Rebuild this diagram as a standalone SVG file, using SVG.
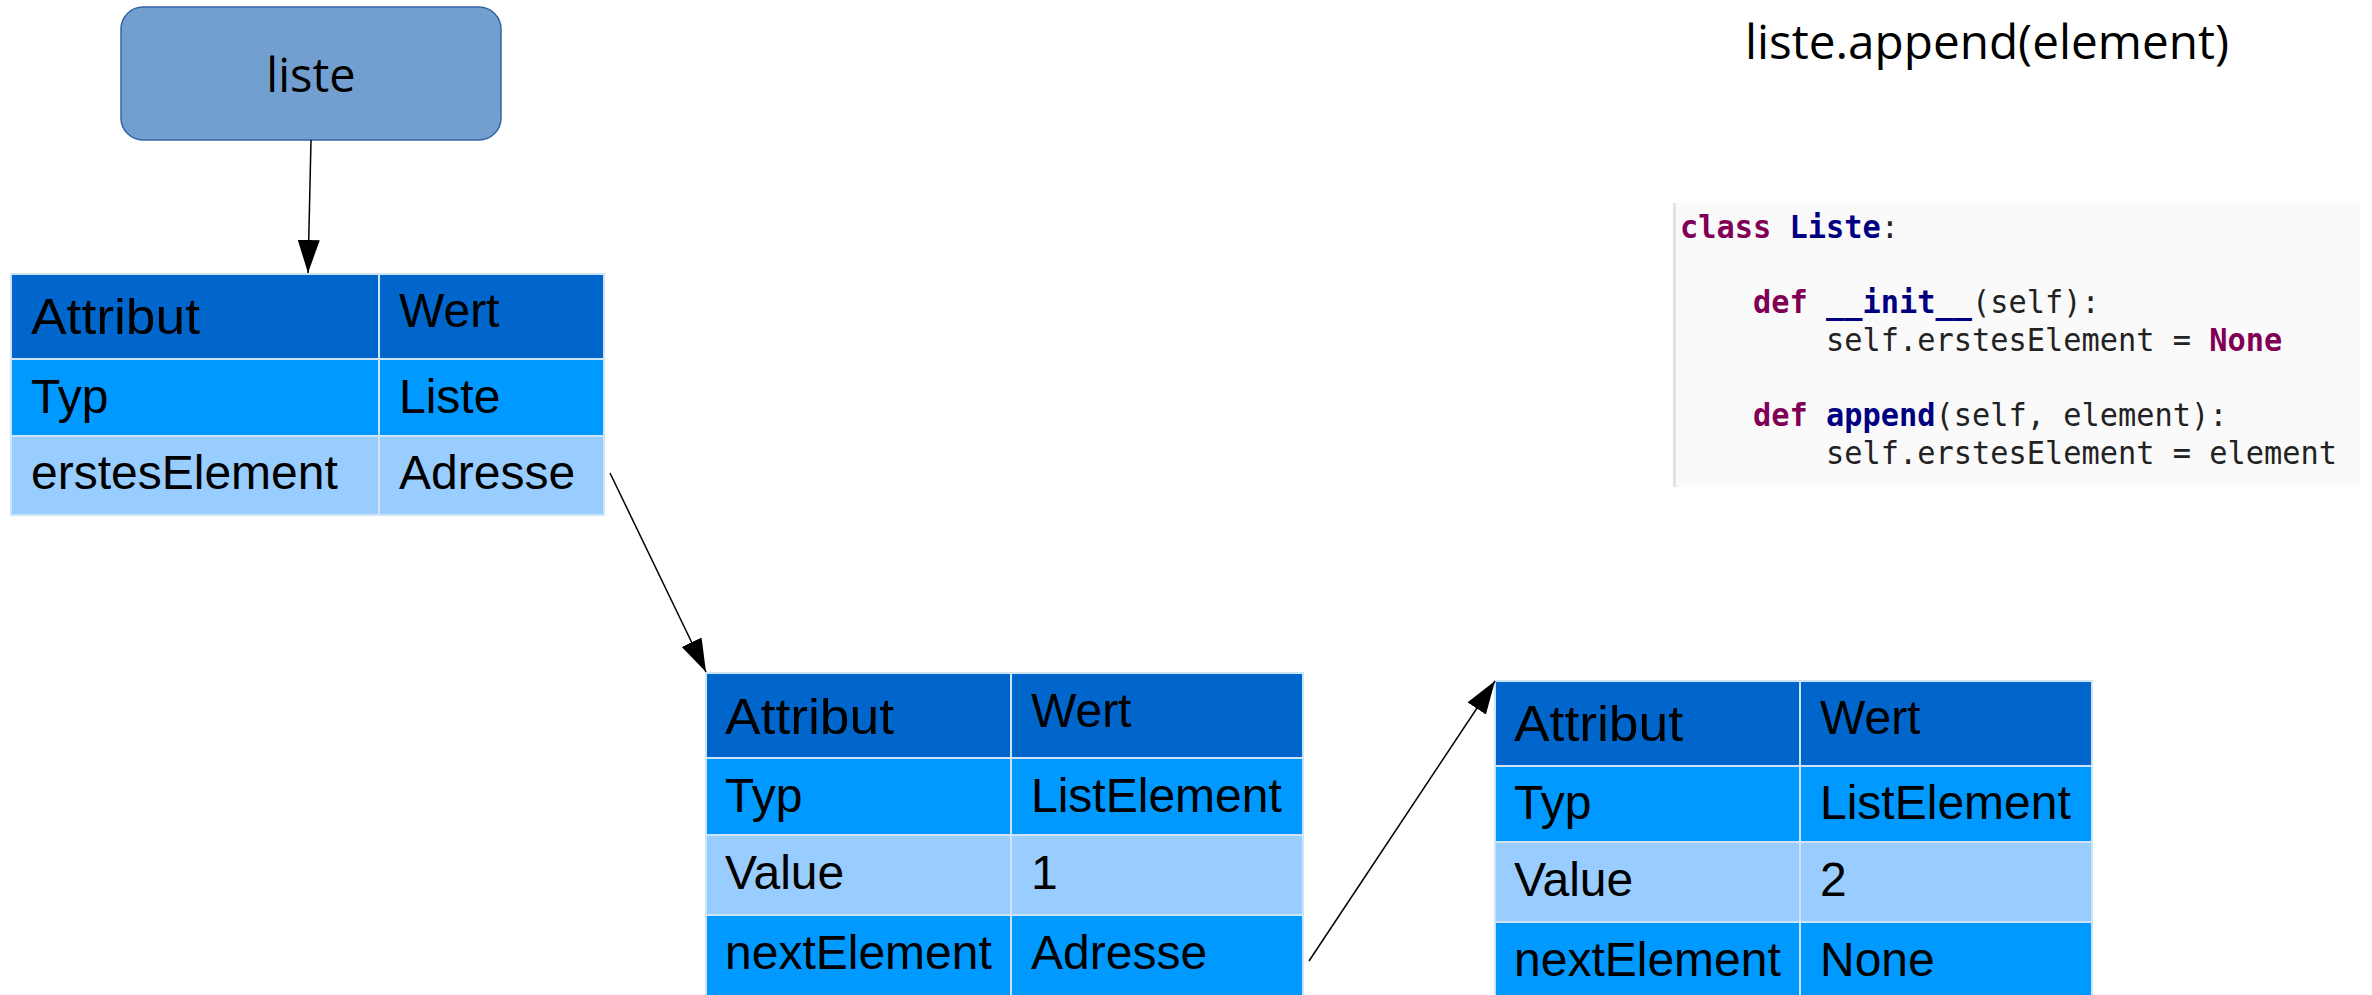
<svg xmlns="http://www.w3.org/2000/svg" width="2372" height="995" viewBox="0 0 2372 995">
<style>
.hdr{fill:#0066cc}
.mid{fill:#0099ff}
.lt{fill:#99ccff}
.cell{stroke:#cfe3f7;stroke-width:2}
.t{font-family:"Liberation Sans",Arial,sans-serif;font-size:48px;fill:#000}
.ta{font-family:"Liberation Sans",Arial,sans-serif;font-size:50px;fill:#000}
.os{font-family:"Open Sans","Noto Sans",sans-serif;font-size:47px;fill:#000}
.code{font-family:"DejaVu Sans Mono",monospace;font-size:32px;fill:#222;white-space:pre}
.kw{fill:#7f0055;font-weight:bold}
.nm{fill:#000080;font-weight:bold}
.conn{stroke:#000;stroke-width:1.5;fill:none}
</style>
<defs>
<marker id="arr" markerUnits="userSpaceOnUse" markerWidth="34" markerHeight="24" refX="33" refY="11" orient="auto">
<path d="M0,0 L33,11 L0,22 Z" fill="#000"/>
</marker>
</defs>
<rect width="2372" height="995" fill="#fff"/>

<g id="title">
<text class="os" x="1745" y="59" textLength="484" lengthAdjust="spacingAndGlyphs">liste.append(element)</text>
</g>

<g id="code">
<rect x="1674" y="203" width="686" height="284" fill="#fafafa"/>
<rect x="1673" y="203" width="3" height="284" fill="#e2e2e2"/>
<g transform="translate(1680,0) scale(0.948,1)">
<text class="code" x="0" y="238"><tspan class="kw">class</tspan> <tspan class="nm">Liste</tspan>:</text>
<text class="code" x="77" y="313.5"><tspan class="kw">def</tspan> <tspan class="nm">__init__</tspan>(self):</text>
<text class="code" x="154" y="351">self.erstesElement = <tspan class="kw">None</tspan></text>
<text class="code" x="77" y="426.5"><tspan class="kw">def</tspan> <tspan class="nm">append</tspan>(self, element):</text>
<text class="code" x="154" y="464.5">self.erstesElement = element</text>
</g>
</g>

<g id="liste">
<rect x="121" y="7" width="380" height="133" rx="22" ry="22" fill="#729fcf" stroke="#3465a4" stroke-width="1.5"/>
<text class="os" x="311" y="92" text-anchor="middle">liste</text>
</g>

<g id="table1">
<rect class="hdr cell" x="11" y="274" width="368" height="85"/>
<rect class="hdr cell" x="379" y="274" width="225" height="85"/>
<rect class="mid cell" x="11" y="359" width="368" height="77"/>
<rect class="mid cell" x="379" y="359" width="225" height="77"/>
<rect class="lt cell" x="11" y="436" width="368" height="79"/>
<rect class="lt cell" x="379" y="436" width="225" height="79"/>
<text class="ta" x="31" y="334" textLength="169" lengthAdjust="spacingAndGlyphs">Attribut</text>
<text class="t" x="399" y="327">Wert</text>
<text class="t" x="31" y="413">Typ</text>
<text class="t" x="399" y="413">Liste</text>
<text class="t" x="31" y="489">erstesElement</text>
<text class="t" x="399" y="489">Adresse</text>
</g>

<g id="table2">
<rect class="hdr cell" x="706" y="673" width="305" height="85"/>
<rect class="hdr cell" x="1011" y="673" width="292" height="85"/>
<rect class="mid cell" x="706" y="758" width="305" height="77"/>
<rect class="mid cell" x="1011" y="758" width="292" height="77"/>
<rect class="lt cell" x="706" y="835" width="305" height="80"/>
<rect class="lt cell" x="1011" y="835" width="292" height="80"/>
<rect class="mid cell" x="706" y="915" width="305" height="90"/>
<rect class="mid cell" x="1011" y="915" width="292" height="90"/>
<text class="ta" x="725" y="734" textLength="169" lengthAdjust="spacingAndGlyphs">Attribut</text>
<text class="t" x="1031" y="727">Wert</text>
<text class="t" x="725" y="812">Typ</text>
<text class="t" x="1031" y="812">ListElement</text>
<text class="t" x="725" y="889">Value</text>
<text class="t" x="1031" y="889">1</text>
<text class="t" x="725" y="969">nextElement</text>
<text class="t" x="1031" y="969">Adresse</text>
</g>

<g id="table3">
<rect class="hdr cell" x="1495" y="681" width="305" height="85"/>
<rect class="hdr cell" x="1800" y="681" width="292" height="85"/>
<rect class="mid cell" x="1495" y="766" width="305" height="76"/>
<rect class="mid cell" x="1800" y="766" width="292" height="76"/>
<rect class="lt cell" x="1495" y="842" width="305" height="80"/>
<rect class="lt cell" x="1800" y="842" width="292" height="80"/>
<rect class="mid cell" x="1495" y="922" width="305" height="90"/>
<rect class="mid cell" x="1800" y="922" width="292" height="90"/>
<text class="ta" x="1514" y="741" textLength="169" lengthAdjust="spacingAndGlyphs">Attribut</text>
<text class="t" x="1820" y="734">Wert</text>
<text class="t" x="1514" y="819">Typ</text>
<text class="t" x="1820" y="819">ListElement</text>
<text class="t" x="1514" y="896">Value</text>
<text class="t" x="1820" y="896">2</text>
<text class="t" x="1514" y="976">nextElement</text>
<text class="t" x="1820" y="976">None</text>
</g>

<g id="connectors">
<line class="conn" x1="311" y1="140" x2="308" y2="273" marker-end="url(#arr)"/>
<line class="conn" x1="610" y1="473" x2="706" y2="672" marker-end="url(#arr)"/>
<line class="conn" x1="1309" y1="961" x2="1495" y2="681" marker-end="url(#arr)"/>
</g>
</svg>
